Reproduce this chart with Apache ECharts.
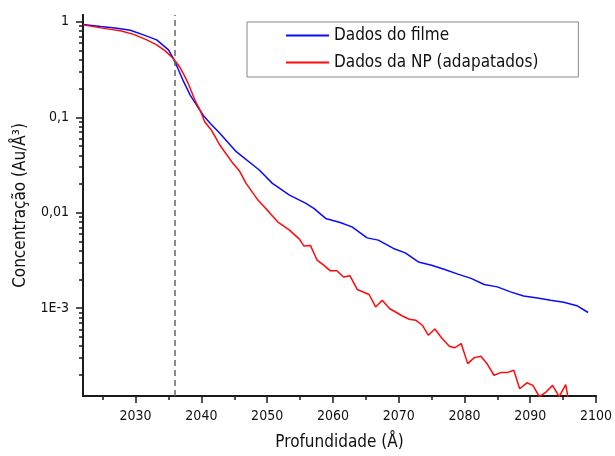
<!DOCTYPE html>
<html>
<head>
<meta charset="utf-8">
<script src="https://cdn.jsdelivr.net/npm/echarts@6/dist/echarts.min.js"></script>
<style>
  html, body { margin: 0; padding: 0; background: #fff; }
  #chart { width: 615px; height: 456px; }
</style>
</head>
<body>
<div id="chart"></div>
<script>
// Depth profiles of Au concentration
const depthFilm = [2022.0, 2024.7, 2027.2, 2029.2, 2031.2, 2033.2, 2035.0, 2035.7, 2036.3, 2037.3, 2038.3, 2039.3, 2040.3, 2041.3, 2042.8, 2045.3, 2048.8, 2050.8, 2053.4, 2055.9, 2057.1, 2058.9, 2061.1, 2062.9, 2065.2, 2066.9, 2069.2, 2071.0, 2073.0, 2075.0, 2077.0, 2079.0, 2081.0, 2083.0, 2085.0, 2087.0, 2089.0, 2091.1, 2093.1, 2095.1, 2097.1, 2098.8];
const concFilm = [0.937, 0.893, 0.859, 0.818, 0.730, 0.647, 0.508, 0.416, 0.340, 0.236, 0.171, 0.133, 0.1045, 0.0871, 0.0679, 0.0436, 0.0280, 0.0203, 0.0153, 0.01253, 0.0111, 0.00871, 0.00791, 0.00711, 0.00545, 0.00516, 0.00422, 0.00379, 0.00305, 0.00282, 0.00254, 0.00227, 0.00205, 0.00177, 0.00167, 0.00148, 0.00134, 0.00128, 0.00121, 0.00115, 0.00106, 0.00090];

const depthNP = [2022.0, 2024.7, 2026.2, 2027.7, 2029.7, 2031.7, 2033.2, 2034.5, 2035.7, 2036.7, 2037.5, 2038.1, 2038.7, 2039.3, 2039.8, 2040.5, 2041.5, 2042.2, 2042.8, 2044.8, 2045.8, 2046.8, 2048.6, 2049.3, 2050.3, 2051.6, 2053.4, 2054.4, 2054.9, 2055.6, 2056.6, 2057.6, 2058.6, 2059.6, 2060.6, 2061.6, 2062.6, 2063.7, 2065.5, 2066.5, 2067.5, 2068.6, 2070.5, 2071.6, 2072.6, 2073.6, 2074.5, 2075.5, 2076.6, 2077.7, 2078.5, 2079.5, 2080.5, 2081.5, 2082.5, 2083.5, 2084.5, 2085.5, 2086.5, 2087.5, 2088.4, 2089.5, 2090.4, 2091.4, 2092.4, 2093.4, 2094.4, 2095.4, 2095.9];
const concNP = [0.930, 0.865, 0.834, 0.805, 0.739, 0.647, 0.574, 0.496, 0.416, 0.337, 0.267, 0.218, 0.171, 0.138, 0.119, 0.0899, 0.0736, 0.0607, 0.0512, 0.0329, 0.0273, 0.0203, 0.01356, 0.01202, 0.01014, 0.00803, 0.00656, 0.00568, 0.00528, 0.00447, 0.00452, 0.00318, 0.00282, 0.00246, 0.00246, 0.00212, 0.00218, 0.00157, 0.00139, 0.00103, 0.00121, 0.000991, 0.000832, 0.000765, 0.000747, 0.000662, 0.000520, 0.000605, 0.000480, 0.000398, 0.000384, 0.000425, 0.000262, 0.000303, 0.000313, 0.000258, 0.000198, 0.000211, 0.000211, 0.000223, 0.000143, 0.000165, 0.000155, 0.000118, 0.000132, 0.000155, 0.000118, 0.000158, 0.000100];

const xMajor = [2030, 2040, 2050, 2060, 2070, 2080, 2090, 2100];
const xMinor = [2025, 2035, 2045, 2055, 2065, 2075, 2085, 2095];
const yMajor = [0.001, 0.01, 0.1, 1];
const yMajorText = { '0.001': '1E-3', '0.01': '0,01', '0.1': '0,1', '1': '1' };
const yMinor = [];
[0.0001, 0.001, 0.01, 0.1].forEach(d => { for (let k = 2; k <= 9; k++) yMinor.push(+(d * k).toPrecision(3)); });
const interfaceDepth = 2036;

const FONT = '"DejaVu Sans Condensed", "DejaVu Sans", sans-serif';
const AX = '#1a1a1a';
const xMin = 2022, xMax = 2100, yMin = 1.2e-4, yMax = 1.18;

const zip = (xs, ys) => xs.map((x, i) => [x, ys[i]]);

const chart = echarts.init(document.getElementById('chart'), null, { renderer: 'canvas' });
chart.setOption({
  animation: false,
  backgroundColor: '#fff',
  grid: { left: 83, right: 16, top: 15, bottom: 60 },
  legend: {
    orient: 'vertical',
    left: 247, top: 22,
    padding: [5, 40, 6, 38],
    itemWidth: 43, itemHeight: 14, itemGap: 10,
    borderColor: '#888', borderWidth: 1,
    itemStyle: { opacity: 0 },
    textStyle: { fontFamily: FONT, fontSize: 17, color: '#111' },
    data: ['Dados do filme', 'Dados da NP (adapatados)']
  },
  xAxis: [{
    type: 'value', min: xMin, max: xMax,
    name: 'Profundidade (Å)', nameLocation: 'middle', nameGap: 38,
    nameTextStyle: { fontFamily: FONT, fontSize: 17, color: '#111' },
    axisLine: { show: true, onZero: false, lineStyle: { color: AX, width: 1.8 } },
    axisTick: { show: true, length: 7, customValues: xMajor, lineStyle: { color: AX, width: 1.5 } },
    axisLabel: { customValues: xMajor, margin: 13, fontFamily: FONT, fontSize: 14, color: '#111',
      formatter: v => String(Math.round(v)) },
    splitLine: { show: false }
  }, {
    type: 'value', min: xMin, max: xMax, position: 'bottom',
    axisLine: { show: true, onZero: false, lineStyle: { color: AX, width: 1.8 } },
    axisTick: { show: true, length: 4, customValues: xMinor, lineStyle: { color: AX, width: 1.5 } },
    axisLabel: { show: false },
    splitLine: { show: false }
  }],
  yAxis: [{
    type: 'log', min: yMin, max: yMax, logBase: 10,
    name: 'Concentração (Au/Å³)', nameLocation: 'middle', nameGap: 53, nameRotate: 90,
    nameTextStyle: { fontFamily: FONT, fontSize: 17, color: '#111' },
    axisLine: { show: true, lineStyle: { color: AX, width: 1.8 } },
    axisTick: { show: true, length: 7, customValues: yMajor, lineStyle: { color: AX, width: 1.5 } },
    axisLabel: {
      customValues: yMajor, margin: 14, fontFamily: FONT, fontSize: 14, color: '#111',
      formatter: v => yMajorText[String(+v.toPrecision(3))] || ''
    },
    splitLine: { show: false }
  }, {
    type: 'log', min: yMin, max: yMax, logBase: 10, position: 'left', offset: 0,
    axisLine: { show: true, lineStyle: { color: AX, width: 1.8 } },
    axisTick: { show: true, length: 4, customValues: yMinor, lineStyle: { color: AX, width: 1.5 } },
    axisLabel: { show: false },
    splitLine: { show: false }
  }],
  series: [{
    name: 'Dados do filme', type: 'line', xAxisIndex: 0, yAxisIndex: 0,
    data: zip(depthFilm, concFilm), symbol: 'none', clip: true,
    lineStyle: { color: '#0a0aff', width: 1.5 }, itemStyle: { color: '#0a0aff' },
    markLine: {
      silent: true, symbol: 'none', label: { show: false },
      lineStyle: { color: '#666', width: 1.5, type: [6, 4] },
      data: [{ xAxis: interfaceDepth }]
    }
  }, {
    name: 'Dados da NP (adapatados)', type: 'line', xAxisIndex: 0, yAxisIndex: 0,
    data: zip(depthNP, concNP), symbol: 'none', clip: true,
    lineStyle: { color: '#ff0a0a', width: 1.5 }, itemStyle: { color: '#ff0a0a' }
  }]
});
</script>
</body>
</html>
